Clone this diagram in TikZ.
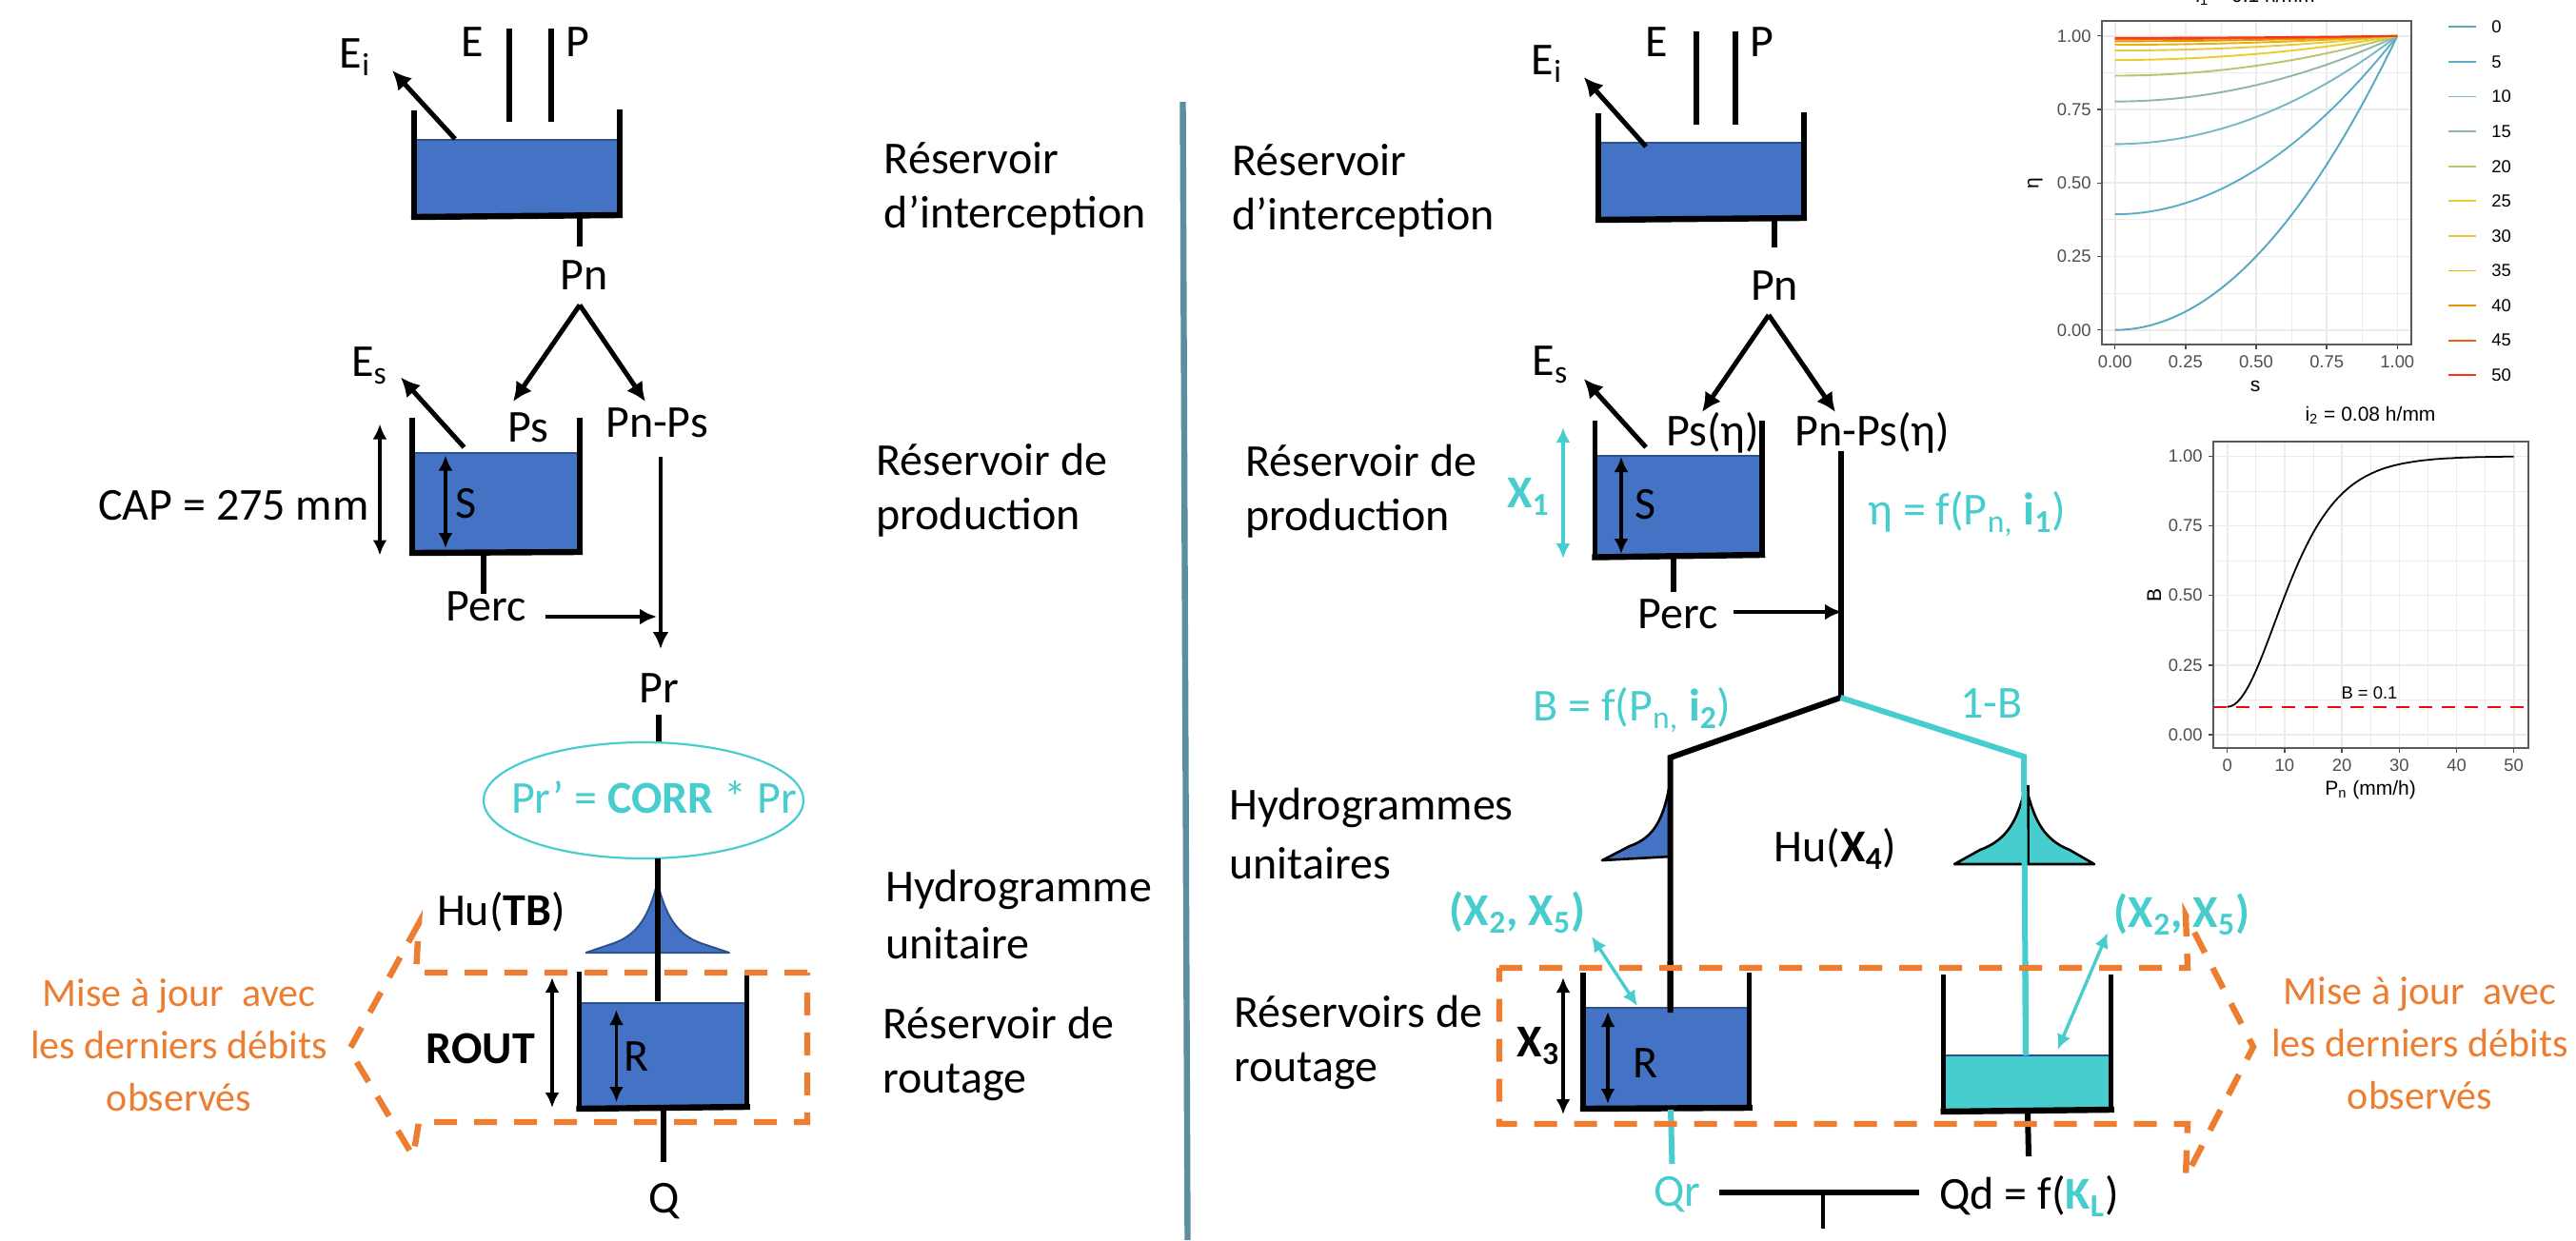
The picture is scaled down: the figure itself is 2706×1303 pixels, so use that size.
\documentclass[tikz,border=0pt]{standalone}
\usepackage{fontspec}
\setmainfont{Carlito}
\newfontfamily\plotfont{Liberation Sans}
\usetikzlibrary{arrows.meta,shapes.geometric}
\definecolor{wblue}{HTML}{4472C4}
\definecolor{wdark}{HTML}{2F528F}
\definecolor{wcyan}{HTML}{48CDCF}
\definecolor{worange}{HTML}{ED7D31}
\definecolor{wteal}{HTML}{5B8E9E}
\definecolor{gridc}{HTML}{EBEBEB}
\definecolor{framec}{HTML}{5A5A5A}
\definecolor{tickc}{HTML}{4D4D4D}
\definecolor{z0}{HTML}{56A8BE}
\definecolor{z5}{HTML}{5CADC2}
\definecolor{z10}{HTML}{78B7C5}
\definecolor{z15}{HTML}{8DB8A6}
\definecolor{z20}{HTML}{B9C46C}
\definecolor{z25}{HTML}{EBCC2A}
\definecolor{z30}{HTML}{E9C73E}
\definecolor{z35}{HTML}{E3B20C}
\definecolor{z40}{HTML}{E89400}
\definecolor{z45}{HTML}{EE6210}
\definecolor{z50}{HTML}{F8321C}
\tikzset{
  lab/.style={font=\fontsize{24}{28.5}\selectfont,inner sep=0pt,align=left},
  orlab/.style={lab,text=worange,align=center,font=\fontsize{21}{27.5}\selectfont},
  cylab/.style={lab,text=wcyan},
  wall/.style={draw=black,line width=2.6pt,line join=miter},
  wline/.style={draw=black,line width=3pt},
  cline/.style={draw=wcyan,line width=3pt},
  bigarr/.style={draw=black,line width=2.5pt,-{Latex[length=10pt,width=10pt]}},
  medarr/.style={draw=black,line width=2.4pt,-{Latex[length=9pt,width=8.5pt]}},
  dblarr/.style={draw=black,line width=1.7pt,{Latex[length=8pt,width=7.5pt]}-{Latex[length=8pt,width=7.5pt]}},
  cdblarr/.style={draw=wcyan,line width=1.7pt,{Latex[length=8pt,width=7.5pt]}-{Latex[length=8pt,width=7.5pt]}},
  dashbox/.style={draw=worange,line width=3.2pt,dash pattern=on 12pt off 9pt,line join=miter},
  huedge/.style={line width=1pt,line join=round},
  majgrid/.style={draw=gridc,line width=0.8pt},
  mingrid/.style={draw=gridc,line width=0.4pt},
  frameb/.style={draw=framec,line width=0.9pt},
  tickl/.style={draw=tickc,line width=0.7pt},
  ticktxt/.style={font=\plotfont\fontsize{9.2}{11}\selectfont,text=tickc,inner sep=0pt},
  plottxt/.style={font=\plotfont\fontsize{10.5}{12}\selectfont,inner sep=0pt},
  legtxt/.style={font=\plotfont\fontsize{9.2}{11}\selectfont,inner sep=0pt,anchor=west}
}
% \tank{water colour}{name}{lx}{ltop}{lbot}{rx}{rtop}{rbot}{water top}
\newcommand\tank[9]{%
  \coordinate (#2a) at (#3,#4);
  \coordinate (#2b) at (#3,#5);
  \coordinate (#2c) at (#6,#8);
  \coordinate (#2d) at (#6,#7);
  \coordinate (#2e) at (#3,#9);
  \coordinate (#2f) at (#6,#9);
  \fill[#1] (#2e) -- (#2b) -- (#2c) -- (#2f) -- cycle;
  \draw[draw=wdark,line width=1pt] (#2e) -- (#2f);
  \draw[wall] (#2a) -- (#2b);
  \draw[wall] (#2d) -- (#2c);
  \draw[draw=black,line width=3.2pt,line cap=rect] (#2b) -- (#2c);
}
\begin{document}
\begin{tikzpicture}[x=0.5pt,y=-0.5pt]
\useasboundingbox (0,0) rectangle (2706,1303);
\fill[white] (0,0) rectangle (2706,1303);

%================ LEFT MODEL ================
\tank{wblue}{la}{435}{116}{228}{651}{115}{226}{147}
\coordinate (eT) at (535,30); \coordinate (eB) at (535,128);
\coordinate (pT) at (579,30); \coordinate (pB) at (579,128);
\draw[wline] (eT) -- (eB);
\draw[wline] (pT) -- (pB);
\node[lab] (lE) at (496,44) {E};
\node[lab] (lP) at (607,44) {P};
\node[lab] (lEi) at (373,60) {E\textsubscript{i}};
\coordinate (eiA) at (478,146); \coordinate (eiB) at (412,74);
\draw[bigarr] (eiA) -- (eiB);
\coordinate (pnA) at (609,228); \coordinate (pnB) at (609,259);
\draw[wline] (pnA) -- (pnB);
\node[lab] (lPn) at (614,289) {Pn};
\coordinate (apex) at (609,320.5);
\coordinate (psT) at (539,422); \coordinate (pnpsT) at (678,422);
\draw[bigarr] (apex) -- (psT);
\draw[bigarr] (apex) -- (pnpsT);
\node[lab] (lPs) at (554.5,449) {Ps};
\node[lab] (lPnPs) at (690,444) {Pn-Ps};
\node[lab] (lEs) at (388,384) {E\textsubscript{s}};
\coordinate (esA) at (487.5,470); \coordinate (esB) at (421,396.5);
\draw[bigarr] (esA) -- (esB);
\tank{wblue}{lb}{433}{439}{581}{609}{439}{580}{476}
\coordinate (capT) at (399,445.5); \coordinate (capB) at (399,583.5);
\draw[dblarr] (capT) -- (capB);
\node[lab,anchor=east] (lCap) at (388,531) {CAP = 275 mm};
\coordinate (sT) at (468,478.5); \coordinate (sB) at (468,576);
\draw[dblarr] (sT) -- (sB);
\node[lab] (lS) at (489.5,529) {S};
\coordinate (pcA) at (508,582); \coordinate (pcB) at (508,624);
\draw[wline] (pcA) -- (pcB);
\node[lab] (lPerc) at (510.5,637) {Perc};
\coordinate (paA) at (573,648); \coordinate (paB) at (690,648);
\draw[medarr] (paA) -- (paB);
\coordinate (ppA) at (694,480); \coordinate (ppB) at (694,682);
\draw[medarr] (ppA) -- (ppB);
\node[lab] (lPr) at (692,723) {Pr};
\coordinate (prA) at (692,751); \coordinate (prB) at (692,780);
\draw[wline] (prA) -- (prB);
\node[draw=wcyan,line width=1.1pt,ellipse,minimum width=168pt,minimum height=61pt,inner sep=0pt] (ell) at (676,841) {};
\node[cylab] (lCorr) at (687,838) {Pr’ = \textbf{CORR} * Pr};
% unit hydrograph
\coordinate (hlP) at (690.6,927);
\coordinate (hlL) at (615.5,1001);
\coordinate (hlR) at (766,1001);
\filldraw[fill=wblue,draw=wdark,huedge] (hlP) .. controls (682,962) and (670,982) .. (645,991) -- (hlL) -- (hlR) -- (736,991) .. controls (711,982) and (699,962) .. (hlP) -- cycle;
\coordinate (hA) at (690.6,902); \coordinate (hB) at (690.6,1052);
\draw[wline] (hA) -- (hB);
\node[lab] (lHuTB) at (526.5,958) {Hu(\textbf{TB})};
% routing store
\tank{wblue}{lc}{608.5}{1021}{1165}{784.7}{1021}{1163}{1054}
\coordinate (roA) at (580,1027); \coordinate (roB) at (580,1164);
\draw[dblarr] (roA) -- (roB);
\coordinate (rA) at (647.5,1061); \coordinate (rB) at (647.5,1158);
\draw[dblarr] (rA) -- (rB);
\node[lab] (lR) at (669,1110) {R};
\node[lab,font=\bfseries\fontsize{24}{28}\selectfont] (lRout) at (505,1102) {ROUT};
\coordinate (qA) at (697,1165); \coordinate (qB) at (697,1221);
\draw[wline] (qA) -- (qB);
\node[lab] (lQ) at (697.5,1262) {Q};
% dashed update box
\coordinate (d1) at (848,1022); \coordinate (d2) at (437,1022); \coordinate (d3) at (440,970);
\coordinate (d4) at (367,1103); \coordinate (d5) at (434,1215); \coordinate (d6) at (440,1179);
\coordinate (d7) at (848,1179);
\draw[dashbox] (d1) -- (d2) -- (d3) -- (d4) -- (d5) -- (d6) -- (d7) -- cycle;
\node[orlab] (lMajL) at (188,1098) {Mise à jour\ \ avec\\les derniers débits\\observés};

% left captions
\node[lab,anchor=west] (cap1) at (928.5,198) {Réservoir\\d’interception};
\node[lab,anchor=west] (cap2) at (920,515.5) {Réservoir de\\production};
\node[lab,anchor=west] (cap3) at (930,960.5) {Hydrogramme\\[1.5pt]unitaire};
\node[lab,anchor=west] (cap4) at (927,1107.5) {Réservoir de\\routage};

% divider
\coordinate (divT) at (1242.5,107); \coordinate (divB) at (1247.5,1303);
\draw[draw=wteal,line width=3.2pt] (divT) -- (divB);

%================ RIGHT MODEL ================
\tank{wblue}{ra}{1679}{119}{231}{1895}{118}{229}{150}
\coordinate (reT) at (1782,33); \coordinate (reB) at (1782,131);
\coordinate (rpT) at (1822.5,33); \coordinate (rpB) at (1822.5,131);
\draw[wline] (reT) -- (reB);
\draw[wline] (rpT) -- (rpB);
\node[lab] (rE) at (1740,44) {E};
\node[lab] (rP) at (1851,44) {P};
\node[lab] (rEi) at (1625,67) {E\textsubscript{i}};
\coordinate (reiA) at (1729,154); \coordinate (reiB) at (1663.7,81);
\draw[bigarr] (reiA) -- (reiB);
\coordinate (rpnA) at (1864,230); \coordinate (rpnB) at (1864,260);
\draw[wline] (rpnA) -- (rpnB);
\node[lab] (rPn) at (1864,300) {Pn};
\coordinate (rapex) at (1858,331);
\coordinate (rpsT) at (1788,433); \coordinate (rpnpsT) at (1928,433);
\draw[bigarr] (rapex) -- (rpsT);
\draw[bigarr] (rapex) -- (rpnpsT);
\node[lab] (rPs) at (1799,455) {Ps(η)};
\node[lab] (rPnPs) at (1967,455) {Pn-Ps(η)};
\node[lab] (rEs) at (1628.5,383) {E\textsubscript{s}};
\coordinate (resA) at (1729,470); \coordinate (resB) at (1663.7,398);
\draw[bigarr] (resA) -- (resB);
\tank{wblue}{rb}{1675.5}{442}{585.5}{1851}{442}{583}{478.5}
\coordinate (xoT) at (1642,449); \coordinate (xoB) at (1642,587);
\draw[cdblarr] (xoT) -- (xoB);
\node[cylab] (rX1) at (1605.5,522) {\textbf{X\textsubscript{1}}};
\coordinate (rsT) at (1703,480); \coordinate (rsB) at (1703,582);
\draw[dblarr] (rsT) -- (rsB);
\node[lab] (rS) at (1729,530) {S};
\coordinate (rpcA) at (1758,587); \coordinate (rpcB) at (1758,622);
\draw[wline] (rpcA) -- (rpcB);
\node[lab] (rPerc) at (1763,645) {Perc};
\coordinate (rmA) at (1933.5,474); \coordinate (rmB) at (1933.5,733);
\draw[wline] (rmA) -- (rmB);
\coordinate (rpaA) at (1820.5,643); \coordinate (rpaB) at (1935,643);
\draw[medarr] (rpaA) -- (rpaB);
\node[cylab,anchor=west] (rEta) at (1962,540) {η = f(P\textsubscript{n,} \textbf{i\textsubscript{1}})};
\node[cylab,anchor=west] (rB) at (1610,746) {B = f(P\textsubscript{n,} \textbf{i\textsubscript{2}})};
\node[cylab] (r1B) at (2092,739) {1-B};
\coordinate (fkL) at (1754.5,796); \coordinate (fkR) at (2126,795);
\coordinate (fkLd) at (1754.5,1064); \coordinate (fkRd) at (2128,1109);
% hydrographs
\coordinate (hrlP) at (1754.7,820); \coordinate (hrlB) at (1683,904); \coordinate (hrlC) at (1754.7,900);
\filldraw[fill=wblue,draw=black,line width=1.3pt,line join=round] (hrlP) .. controls (1748,860) and (1738,880) .. (1712,889) -- (hrlB) -- (hrlC) -- cycle;
\coordinate (hrP) at (2128,825); \coordinate (hrBL) at (2053,908); \coordinate (hrBR) at (2200,908);
\filldraw[fill=wcyan,draw=black,line width=1.3pt,line join=round] (hrP) .. controls (2120,860) and (2110,882) .. (2080,893) -- (hrBL) -- (hrBR) -- (2174,893) .. controls (2146,882) and (2136,860) .. (hrP) -- cycle;
\draw[draw=black,line width=4.4pt] (hrP) -- (2128,908);
\draw[wline,line join=miter] (rmB) -- (fkL) -- (fkLd);
\draw[cline,line join=miter] (rmB) -- (fkR) -- (fkRd);
\node[lab] (rHu) at (1928,892) {Hu(\textbf{X\textsubscript{4}})};
\node[lab,anchor=west] (cap5) at (1291,876) {Hydrogrammes\\[2.5pt]unitaires};
\node[lab,anchor=west] (cap6) at (1296,1095) {Réservoirs de\\routage};
\node[lab,anchor=west] (cap7) at (1294,200) {Réservoir\\d’interception};
\node[lab,anchor=west] (cap8) at (1308,516) {Réservoir de\\production};
\node[cylab] (rXa) at (1594,959) {\textbf{(X\textsubscript{2}, X\textsubscript{5})}};
\node[cylab] (rXb) at (2292,961) {\textbf{(X\textsubscript{2}, X\textsubscript{5})}};
\coordinate (xaA) at (1672,984); \coordinate (xaB) at (1720,1057);
\draw[cdblarr] (xaA) -- (xaB);
% routing stores
\tank{wblue}{rc}{1663}{1022}{1165}{1837.6}{1022}{1164}{1059}
\tank{wcyan}{rd}{2041.7}{1024}{1168}{2217.7}{1024}{1166}{1109}
\coordinate (xbA) at (2214,980); \coordinate (xbB) at (2161.5,1103);
\draw[cdblarr] (xbA) -- (xbB);
\coordinate (fkLe) at (1754.7,1010);
\draw[wline] (fkLe) -- (fkLd);
\coordinate (fkRe) at (2127.5,1010);
\draw[cline] (fkRe) -- (fkRd);
\coordinate (xtT) at (1642,1027); \coordinate (xtB) at (1642,1171);
\draw[dblarr] (xtT) -- (xtB);
\node[lab,font=\bfseries\fontsize{24}{28}\selectfont] (rX3) at (1616,1099) {X\textsubscript{3}};
\coordinate (rrT) at (1689,1063); \coordinate (rrB) at (1689,1160);
\draw[dblarr] (rrT) -- (rrB);
\node[lab] (rR) at (1729,1117) {R};
\coordinate (qrA) at (1755,1166); \coordinate (qrB) at (1756.5,1223);
\draw[cline] (qrA) -- (qrB);
\node[cylab] (rQr) at (1762,1255) {Qr};
\coordinate (qdA) at (2130,1168); \coordinate (qdB) at (2131,1215);
\draw[wline] (qdA) -- (qdB);
\coordinate (barL) at (1806,1253); \coordinate (barR) at (2016,1253); \coordinate (barM) at (1915,1253); \coordinate (barD) at (1915,1291);
\draw[wline,line width=3.2pt] (barL) -- (barR);
\draw[wline,line width=2.2pt] (barM) -- (barD);
\node[lab,anchor=west] (rQd) at (2037,1257) {Qd = f(\textcolor{wcyan}{\textbf{K\textsubscript{L}}})};
% dashed right
\coordinate (e1) at (1575,1017); \coordinate (e2) at (2298,1017); \coordinate (e3) at (2296,962);
\coordinate (e4) at (2367,1100); \coordinate (e5) at (2296,1237); \coordinate (e6) at (2298,1181);
\coordinate (e7) at (1575,1181);
\draw[dashbox] (e1) -- (e2) -- (e3) -- (e4) -- (e5) -- (e6) -- (e7) -- cycle;
\node[orlab] (lMajR) at (2542,1096) {Mise à jour\ \ avec\\les derniers débits\\observés};

%================ PLOT 1 ================
\def\Xo{2221.7}\def\Xs{296.6}\def\Yo{346.7}\def\Ys{309}
\foreach \t in {0.125,0.375,0.625,0.875} {
  \draw[mingrid] ({\Xo+\Xs*\t},22) -- ({\Xo+\Xs*\t},362);
  \draw[mingrid] (2207.7,{\Yo-\Ys*\t}) -- (2533,{\Yo-\Ys*\t});
}
\foreach \t/\l in {0/0.00,0.25/0.25,0.5/0.50,0.75/0.75,1/1.00} {
  \draw[majgrid] ({\Xo+\Xs*\t},22) -- ({\Xo+\Xs*\t},362);
  \draw[majgrid] (2207.7,{\Yo-\Ys*\t}) -- (2533,{\Yo-\Ys*\t});
  \draw[tickl] ({\Xo+\Xs*\t},362) -- ({\Xo+\Xs*\t},367);
  \draw[tickl] (2207.7,{\Yo-\Ys*\t}) -- (2202.7,{\Yo-\Ys*\t});
  \node[ticktxt] at ({\Xo+\Xs*\t},380) {\l};
  \node[ticktxt,anchor=east] at (2197,{\Yo-\Ys*\t}) {\l};
}
\foreach \P/\c in {0/z0,5/z5,10/z10,15/z15,20/z20,25/z25,30/z30,35/z35,40/z40,45/z45,50/z50} {
  \draw[draw=\c,line width=0.95pt] plot[domain=0:1,samples=41] ({\Xo+\Xs*\x},{\Yo-\Ys*(1-(1-\x*\x)*exp(-0.1*\P))});
}
\draw[frameb] (2207.7,22) rectangle (2533,362);
\node[plottxt] (p1s) at (2369,406) {s};
\node[plottxt,rotate=90] (p1e) at (2138,192.7) {η};
\node[plottxt,anchor=base] (p1t) at (2369,2) {i\textsubscript{1} = 0.1 h/mm};
\foreach \P/\c [count=\k from 0] in {0/z0,5/z5,10/z10,15/z15,20/z20,25/z25,30/z30,35/z35,40/z40,45/z45,50/z50} {
  \draw[draw=\c,line width=0.9pt] (2572,{28.3+36.6*\k}) -- (2601,{28.3+36.6*\k});
  \node[legtxt] at (2617,{28.3+36.6*\k}) {\P};
}

%================ PLOT 2 ================
\def\Xa{2339.7}\def\Xb{6.02}\def\Ya{772}\def\Yb{292.7}
\foreach \t in {5,15,25,35,45} {
  \draw[mingrid] ({\Xa+\Xb*\t},464) -- ({\Xa+\Xb*\t},786);
}
\foreach \t in {0.125,0.375,0.625,0.875} {
  \draw[mingrid] (2325,{\Ya-\Yb*\t}) -- (2656,{\Ya-\Yb*\t});
}
\foreach \t in {0,10,20,30,40,50} {
  \draw[majgrid] ({\Xa+\Xb*\t},464) -- ({\Xa+\Xb*\t},786);
  \draw[tickl] ({\Xa+\Xb*\t},786) -- ({\Xa+\Xb*\t},791);
  \node[ticktxt] at ({\Xa+\Xb*\t},804) {\t};
}
\foreach \t/\l in {0/0.00,0.25/0.25,0.5/0.50,0.75/0.75,1/1.00} {
  \draw[majgrid] (2325,{\Ya-\Yb*\t}) -- (2656,{\Ya-\Yb*\t});
  \draw[tickl] (2325,{\Ya-\Yb*\t}) -- (2320,{\Ya-\Yb*\t});
  \node[ticktxt,anchor=east] at (2314,{\Ya-\Yb*\t}) {\l};
}
\draw[draw=red,line width=1pt,dash pattern=on 7pt off 5pt] (2325,{\Ya-\Yb*0.1}) -- (2656,{\Ya-\Yb*0.1});
\draw[draw=black,line width=0.9pt] plot[domain=0:50,samples=81] ({\Xa+\Xb*\x},{\Ya-\Yb*(0.1+0.9*((1-exp(-0.16*\x))/(1+exp(-0.16*\x)))^2)});
\draw[frameb] (2325,464) rectangle (2656,786);
\node[plottxt] (p2t) at (2490,436.5) {i\textsubscript{2} = 0.08 h/mm};
\node[plottxt] (p2x) at (2490,830) {P\textsubscript{n} (mm/h)};
\node[plottxt,rotate=90] (p2y) at (2263,625) {B};
\node[ticktxt,text=black] (p2b) at (2489,728) {B = 0.1};
\end{tikzpicture}
\end{document}
